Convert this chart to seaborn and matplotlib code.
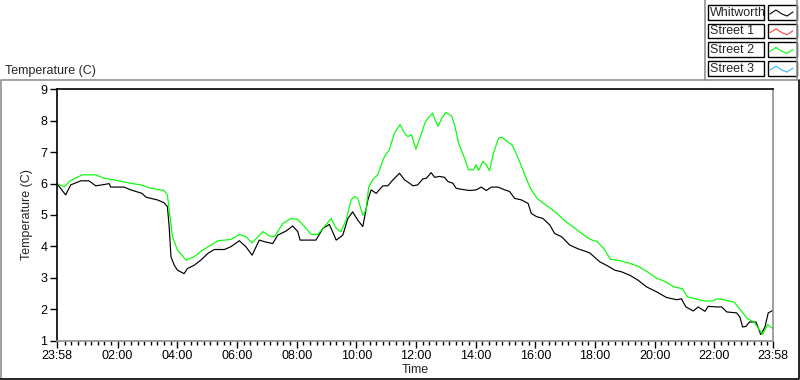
import numpy as np
import pandas as pd
import matplotlib
matplotlib.use('Agg')
import matplotlib.pyplot as plt
import seaborn as sns
from matplotlib.lines import Line2D
from matplotlib.patches import Rectangle
from matplotlib.ticker import FixedLocator

# time is hours since 23:58 (start of trace)
whitworth_t = [0.00, 0.29, 0.46, 0.80, 1.07, 1.30, 1.51, 1.75, 1.80, 2.25, 2.47, 2.85, 2.98,
               3.15, 3.37, 3.59, 3.70, 3.76, 3.82, 3.93, 4.04, 4.26, 4.37, 4.60, 4.82, 5.05,
               5.27, 5.61, 5.83, 6.11, 6.33, 6.54, 6.78, 6.95, 7.23, 7.40, 7.68, 7.90, 8.07,
               8.15, 8.40, 8.68, 8.91, 9.13, 9.36, 9.58, 9.75, 9.91, 10.08, 10.25, 10.42,
               10.53, 10.70, 10.92, 11.09, 11.26, 11.48, 11.65, 11.82, 11.93, 12.09, 12.26,
               12.38, 12.54, 12.66, 12.82, 12.99, 13.10, 13.27, 13.38, 13.55, 13.83, 14.05,
               14.22, 14.39, 14.56, 14.78, 15.01, 15.17, 15.34, 15.57, 15.79, 15.90, 16.07,
               16.29, 16.52, 16.68, 16.91, 17.19, 17.47, 17.69, 17.86, 18.19, 18.47, 18.70,
               18.92, 19.20, 19.48, 19.76, 20.10, 20.43, 20.77, 20.93, 21.08, 21.33, 21.49,
               21.72, 21.83, 22.11, 22.28, 22.45, 22.78, 22.89, 22.98, 23.09, 23.21, 23.43,
               23.59, 23.73, 23.84, 24.00]
whitworth_temp = [6.00, 5.64, 5.96, 6.09, 6.09, 5.93, 5.96, 6.00, 5.89, 5.89, 5.80, 5.69, 5.57,
                  5.53, 5.48, 5.39, 5.27, 4.63, 3.67, 3.40, 3.24, 3.13, 3.29, 3.40, 3.56, 3.77,
                  3.90, 3.90, 3.99, 4.18, 3.99, 3.72, 4.20, 4.15, 4.09, 4.36, 4.49, 4.65, 4.47,
                  4.20, 4.20, 4.20, 4.57, 4.70, 4.20, 4.36, 4.89, 5.10, 4.84, 4.63, 5.48,
                  5.80, 5.69, 5.93, 5.93, 6.12, 6.33, 6.12, 6.01, 5.93, 5.96, 6.15,
                  6.17, 6.35, 6.20, 6.23, 6.20, 6.07, 6.01, 5.85, 5.82, 5.78, 5.80,
                  5.89, 5.78, 5.89, 5.89, 5.80, 5.75, 5.53, 5.48, 5.37, 5.05, 4.95,
                  4.89, 4.68, 4.41, 4.31, 4.04, 3.92, 3.85, 3.79, 3.51, 3.37, 3.24,
                  3.19, 3.08, 2.92, 2.71, 2.55, 2.37, 2.30, 2.33, 2.07, 1.94, 2.07,
                  1.93, 2.09, 2.07, 2.07, 1.91, 1.88, 1.75, 1.43, 1.45, 1.59, 1.59,
                  1.19, 1.43, 1.88, 1.96]

street1_t = []
street1_temp = []

street2_t = [0.00, 0.24, 0.46, 0.85, 1.30, 1.58, 1.91, 2.47, 2.81, 3.15, 3.59, 3.70, 3.76,
             3.87, 4.04, 4.33, 4.60, 4.88, 5.16, 5.39, 5.83, 6.11, 6.33, 6.54, 6.90, 7.12,
             7.29, 7.57, 7.85, 8.07, 8.30, 8.52, 8.74, 8.91, 9.19, 9.36, 9.52, 9.69, 9.86,
             9.97, 10.08, 10.25, 10.36, 10.45, 10.58, 10.75, 10.87, 10.98, 11.14, 11.31,
             11.50, 11.65, 11.76, 11.88, 12.03, 12.22, 12.33, 12.44, 12.59, 12.67, 12.78,
             12.90, 13.04, 13.23, 13.34, 13.46, 13.57, 13.68, 13.79, 13.96, 14.05, 14.13,
             14.28, 14.39, 14.50, 14.63, 14.80, 14.91, 15.08, 15.25, 15.36, 15.53, 15.70,
             15.87, 16.09, 16.31, 16.54, 16.76, 16.99, 17.21, 17.44, 17.66, 17.88, 18.11,
             18.33, 18.55, 18.89, 19.23, 19.51, 19.79, 20.07, 20.40, 20.68, 20.96, 21.13,
             21.41, 21.69, 21.97, 22.14, 22.36, 22.70, 22.92, 23.15, 23.37, 23.65, 23.82,
             24.00]
street2_temp = [6.00, 5.90, 6.10, 6.28, 6.28, 6.17, 6.12, 6.01, 5.96, 5.85, 5.78, 5.64, 5.16,
                4.31, 3.88, 3.56, 3.67, 3.88, 4.04, 4.18, 4.22, 4.38, 4.31, 4.11, 4.47, 4.33,
                4.31, 4.73, 4.89, 4.86, 4.63, 4.38, 4.38, 4.57, 4.89, 4.57, 4.47, 4.84, 5.48,
                5.59, 5.53, 5.00, 5.16, 5.90, 6.12, 6.28, 6.60, 6.87, 7.08, 7.61,
                7.88, 7.61, 7.50, 7.56, 7.10, 7.61, 7.93, 8.09, 8.25, 8.04, 7.83,
                8.09, 8.27, 8.15, 7.83, 7.29, 7.03, 6.76, 6.44, 6.44, 6.60, 6.42,
                6.71, 6.60, 6.41, 6.97, 7.45, 7.48, 7.35, 7.24, 7.03, 6.65, 6.23,
                5.85, 5.53, 5.37, 5.21, 5.05, 4.84, 4.68, 4.52, 4.36, 4.22, 4.15,
                3.93, 3.59, 3.54, 3.45, 3.35, 3.19, 3.00, 2.87, 2.71, 2.65, 2.39,
                2.33, 2.26, 2.26, 2.33, 2.30, 2.22, 1.96, 1.69, 1.59, 1.19, 1.51,
                1.37]

street3_t = []
street3_temp = []

series_names = ['Whitworth', 'Street 1', 'Street 2', 'Street 3']
series_colors = ['#000000', '#ff4040', '#00ff00', '#33bbff']

tick_hours = [0, 2 + 2/60, 4 + 2/60, 6 + 2/60, 8 + 2/60, 10 + 2/60, 12 + 2/60,
              14 + 2/60, 16 + 2/60, 18 + 2/60, 20 + 2/60, 22 + 2/60, 24]
tick_labels = ['23:58', '02:00', '04:00', '06:00', '08:00', '10:00', '12:00',
               '14:00', '16:00', '18:00', '20:00', '22:00', '23:58']

df = pd.concat([
    pd.DataFrame({'t': whitworth_t, 'temp': whitworth_temp, 'series': 'Whitworth'}),
    pd.DataFrame({'t': street1_t, 'temp': street1_temp, 'series': 'Street 1'}),
    pd.DataFrame({'t': street2_t, 'temp': street2_temp, 'series': 'Street 2'}),
    pd.DataFrame({'t': street3_t, 'temp': street3_temp, 'series': 'Street 3'}),
], ignore_index=True)
df['t'] = df['t'].astype(float)
df['temp'] = df['temp'].astype(float)

sns.set_style('white')
plt.rcParams['font.family'] = ['Liberation Sans', 'DejaVu Sans']
fs = 9

fig = plt.figure(figsize=(8, 3.8), dpi=100)
W, H = 800, 380
ax = fig.add_axes([57/W, 1 - 340.5/H, 716/W, 251/H])

palette = dict(zip(series_names, series_colors))
sns.lineplot(data=df, x='t', y='temp', hue='series', palette=palette, hue_order=series_names,
             estimator=None, sort=False, legend=False, linewidth=0.85, ax=ax)

ax.set_xlim(0, 24)
ax.set_ylim(1, 9)
ax.set_yticks(range(1, 10))
ax.set_xticks(tick_hours)
ax.set_xticklabels(tick_labels)
minor = []
for k in range(1, 9):
    minor.append(2 + 2/60 - k * 2/9)
for h in tick_hours[1:-1]:
    for k in range(1, 9):
        v = h + k * 2/9
        if v < 23.95:
            minor.append(v)
ax.xaxis.set_minor_locator(FixedLocator(minor))
ax.tick_params(axis='both', which='major', direction='out', length=5, width=1,
               colors='black', labelsize=fs, pad=2, bottom=True, left=True)
ax.tick_params(axis='x', which='minor', direction='out', length=3, width=1,
               color='black', bottom=True)
ax.set_xlabel('Time', fontsize=fs, labelpad=1)
ax.set_ylabel('Temperature (C)', fontsize=fs, labelpad=5)

for side in ['top', 'left']:
    ax.spines[side].set_color('black')
    ax.spines[side].set_linewidth(1.2)
for side in ['right', 'bottom']:
    ax.spines[side].set_color('#909090')
    ax.spines[side].set_linewidth(1.2)

# panel title
fig.text(5/W, 1 - 71/H, 'Temperature (C)', fontsize=fs, ha='left', va='center')

# panel borders
def fline(xs, ys, color):
    fig.add_artist(Line2D([x / W for x in xs], [1 - y / H for y in ys],
                          transform=fig.transFigure, color=color, lw=1.2))

fline([1, 1, 797], [378, 79.5, 79.5], '#909090')
fline([705, 705], [0, 79.5], '#909090')
fline([797, 797], [0, 79.5], '#909090')
fline([798.5, 798.5, 0], [79.5, 378.5, 378.5], 'black')

# legend
for i, (name, col) in enumerate(zip(series_names, series_colors)):
    y0 = 5 + i * 18.7
    fig.add_artist(Rectangle((708/W, 1 - (y0 + 14.5)/H), 56/W, 14.5/H,
                             transform=fig.transFigure, facecolor='white',
                             edgecolor='black', lw=1))
    fig.add_artist(Rectangle((768/W, 1 - (y0 + 14.5)/H), 28.5/W, 14.5/H,
                             transform=fig.transFigure, facecolor='white',
                             edgecolor='black', lw=1))
    fig.text(710/W, 1 - (y0 + 7.5)/H, name, fontsize=fs, ha='left', va='center')
    zx = [770, 776, 782, 787, 793]
    zy = [y0 + 9, y0 + 5, y0 + 9, y0 + 11, y0 + 7]
    fig.add_artist(Line2D([x / W for x in zx], [1 - y / H for y in zy],
                          transform=fig.transFigure, color=col, lw=0.8))

fig.savefig('out.png', dpi=100, facecolor='white')
